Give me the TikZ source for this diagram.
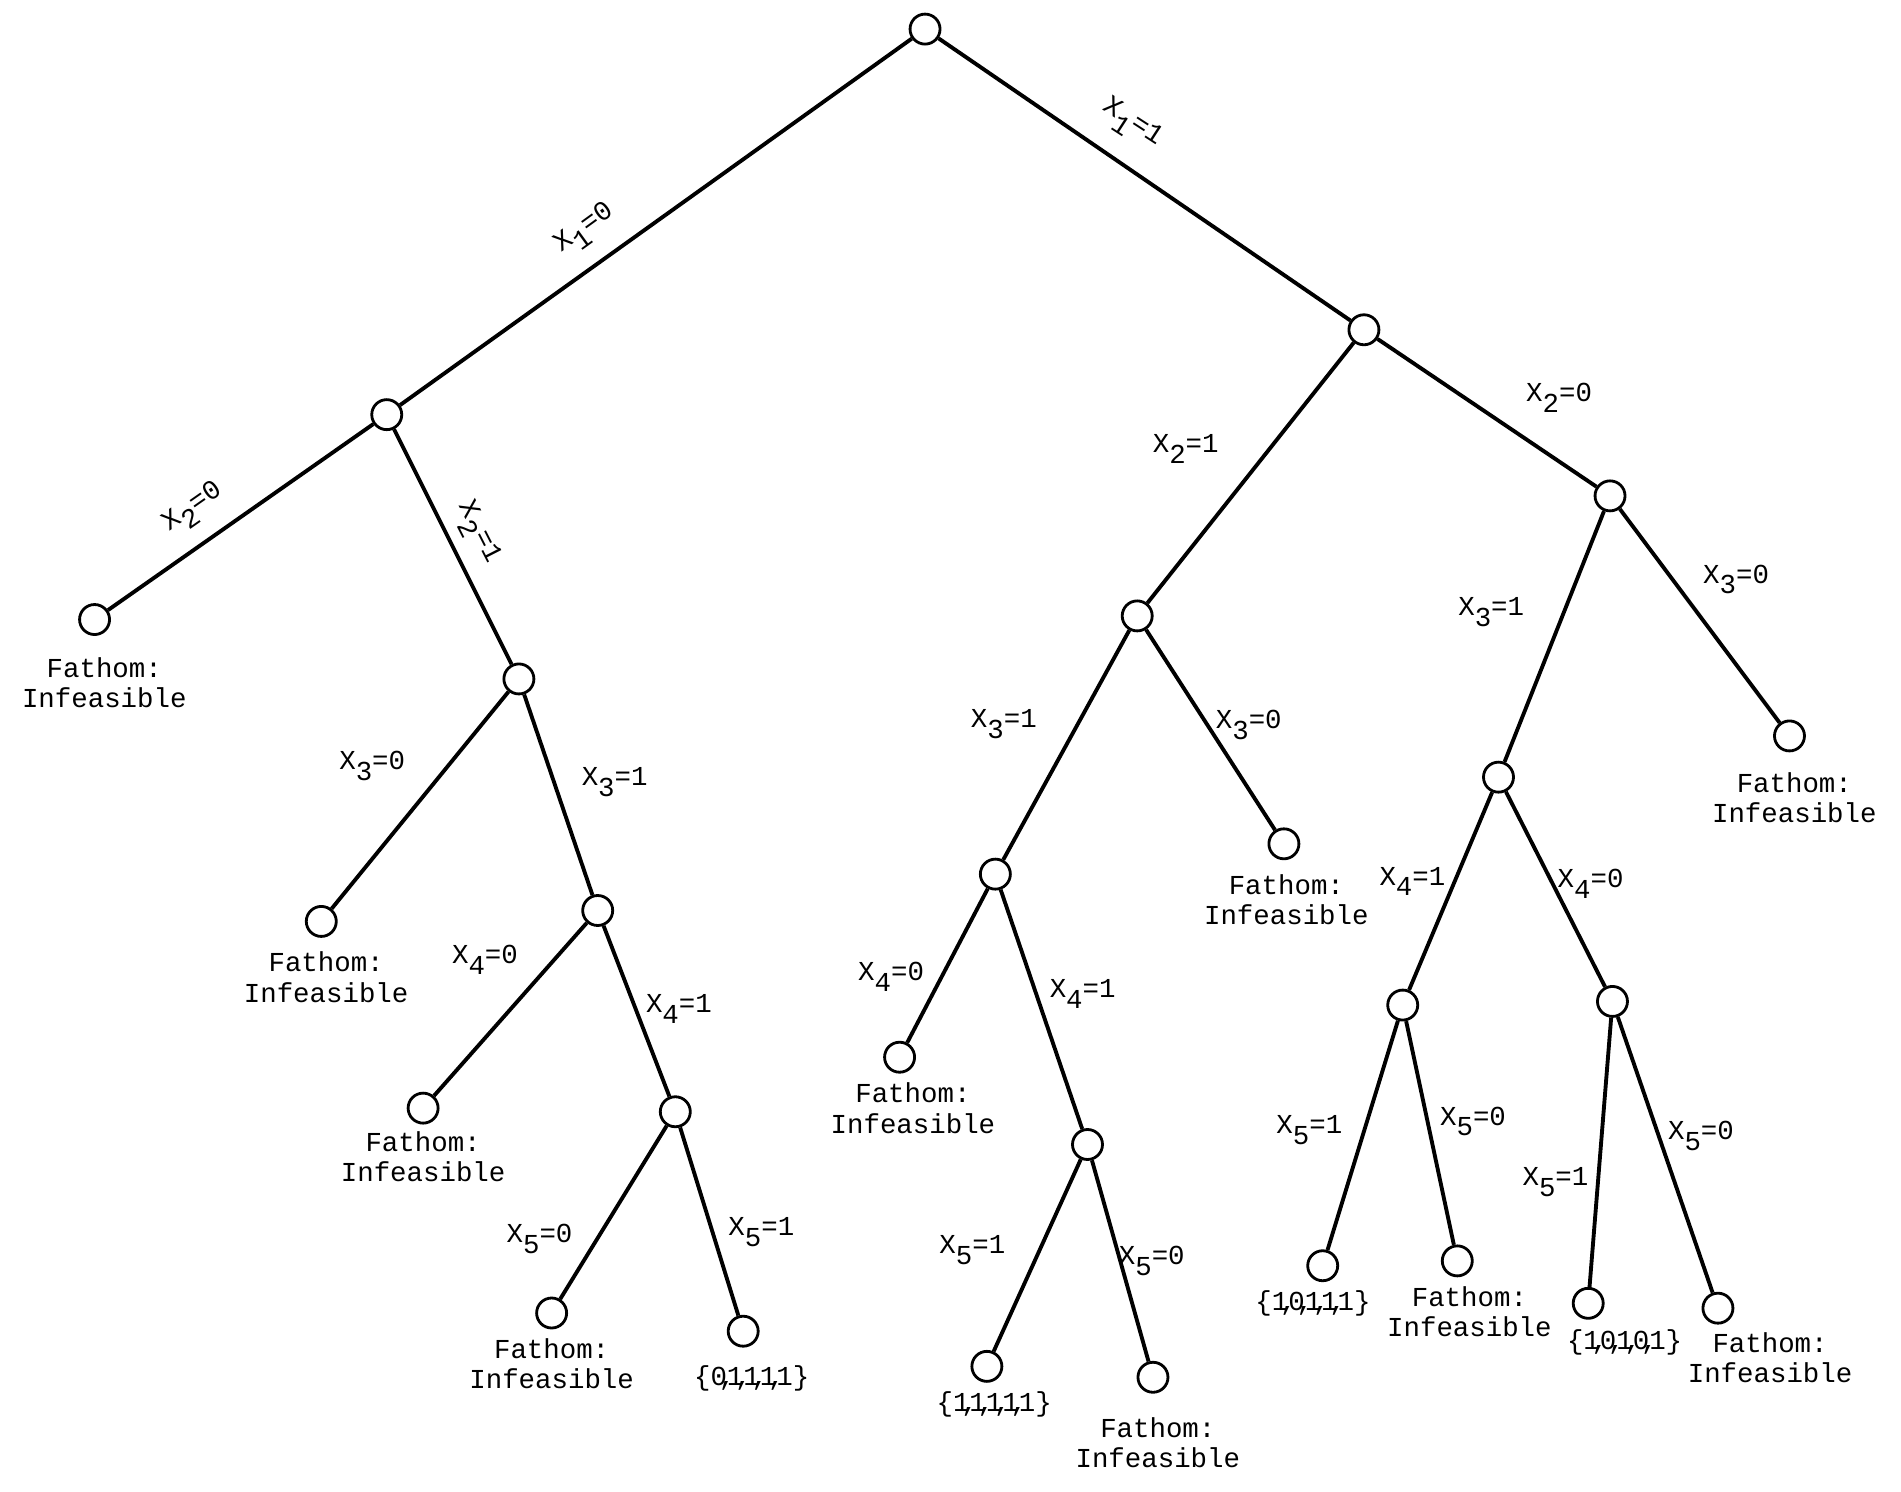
\documentclass[tikz,border=0pt]{standalone}
\usepackage{fontspec}
\setmonofont{Liberation Mono}
\usetikzlibrary{positioning}
\newcommand{\xv}[2]{X\raisebox{-0.75ex}{#1}=#2}
\newcommand{\sep}{\makebox[0pt]{,}}

\begin{document}
\begin{tikzpicture}[
    x=1.2124cm, y=-1.2124cm,
    vertex/.style={circle, draw, line width=0.8pt, minimum size=3mm, inner sep=0},
    edge/.style={line width=1.1pt},
    lbl/.style={font=\ttfamily\fontsize{7.8}{8.6}\selectfont, inner sep=1pt},
    leaf/.style={font=\ttfamily\fontsize{7.8}{8.6}\selectfont, align=center, inner sep=0}
]
  \useasboundingbox (0,0) rectangle (15.68,12.30);

  % Root and first level
  \node[vertex] (root) at (7.63, 0.24) {};
  \node[vertex] (n0) at (3.19, 3.42) {};
  \node[vertex] (n1) at (11.25, 2.72) {};

  % X1 = 0 subtree
  \node[vertex] (n00) at (0.78, 5.11) {};
  \node[vertex] (n01) at (4.28, 5.60) {};
  \node[vertex] (n010) at (2.65, 7.60) {};
  \node[vertex] (n011) at (4.93, 7.51) {};
  \node[vertex] (n0110) at (3.49, 9.14) {};
  \node[vertex] (n0111) at (5.57, 9.17) {};
  \node[vertex] (n01110) at (4.55, 10.83) {};
  \node[vertex] (n01111) at (6.13, 10.98) {};

  % X1 = 1 subtree
  \node[vertex] (n11) at (9.38, 5.08) {};
  \node[vertex] (n10) at (13.28, 4.09) {};
  \node[vertex] (n111) at (8.21, 7.21) {};
  \node[vertex] (n110) at (10.59, 6.96) {};
  \node[vertex] (n1110) at (7.42, 8.72) {};
  \node[vertex] (n1111) at (8.97, 9.44) {};
  \node[vertex] (n11111) at (8.14, 11.27) {};
  \node[vertex] (n11110) at (9.51, 11.36) {};
  \node[vertex] (n101) at (12.36, 6.41) {};
  \node[vertex] (n100) at (14.76, 6.07) {};
  \node[vertex] (n1011) at (11.57, 8.29) {};
  \node[vertex] (n1010) at (13.30, 8.26) {};
  \node[vertex] (n10111) at (10.91, 10.44) {};
  \node[vertex] (n10110) at (12.02, 10.40) {};
  \node[vertex] (n10101) at (13.10, 10.75) {};
  \node[vertex] (n10100) at (14.17, 10.79) {};

  % Branches
  \foreach \a/\b in {root/n0, root/n1, n0/n00, n0/n01, n01/n010, n01/n011,
      n011/n0110, n011/n0111, n0111/n01110, n0111/n01111,
      n1/n11, n1/n10, n11/n111, n11/n110, n111/n1110, n111/n1111,
      n1111/n11111, n1111/n11110, n10/n101, n10/n100, n101/n1011, n101/n1010,
      n1011/n10111, n1011/n10110, n1010/n10101, n1010/n10100}{
    \draw[edge] (\a) -- (\b);
  }

  % Branch labels
  \node[lbl, rotate=36] (b0) at (4.83, 1.90) {\xv{1}{0}};
  \node[lbl, rotate=-33] (b1) at (9.33, 1.03) {\xv{1}{1}};
  \node[lbl, rotate=35] (b00) at (1.60, 4.20) {\xv{2}{0}};
  \node[lbl, rotate=-63] (b01) at (3.93, 4.40) {\xv{2}{1}};
  \node[lbl] (b11) at (9.78, 3.70) {\xv{2}{1}};
  \node[lbl] (b10) at (12.86, 3.28) {\xv{2}{0}};
  \node[lbl] (b010) at (3.07, 6.32) {\xv{3}{0}};
  \node[lbl] (b011) at (5.07, 6.45) {\xv{3}{1}};
  \node[lbl] (b111) at (8.28, 5.97) {\xv{3}{1}};
  \node[lbl] (b110) at (10.30, 5.98) {\xv{3}{0}};
  \node[lbl] (b101) at (12.30, 5.05) {\xv{3}{1}};
  \node[lbl] (b100) at (14.32, 4.78) {\xv{3}{0}};
  \node[lbl] (b0110) at (4.00, 7.92) {\xv{4}{0}};
  \node[lbl] (b0111) at (5.60, 8.32) {\xv{4}{1}};
  \node[lbl] (b1110) at (7.35, 8.06) {\xv{4}{0}};
  \node[lbl] (b1111) at (8.93, 8.20) {\xv{4}{1}};
  \node[lbl] (b1011) at (11.65, 7.27) {\xv{4}{1}};
  \node[lbl] (b1010) at (13.12, 7.29) {\xv{4}{0}};
  \node[lbl] (b01110) at (4.45, 10.22) {\xv{5}{0}};
  \node[lbl] (b01111) at (6.28, 10.16) {\xv{5}{1}};
  \node[lbl] (b11111) at (8.02, 10.31) {\xv{5}{1}};
  \node[lbl] (b11110) at (9.50, 10.40) {\xv{5}{0}};
  \node[lbl] (b10111) at (10.80, 9.32) {\xv{5}{1}};
  \node[lbl] (b10110) at (12.15, 9.25) {\xv{5}{0}};
  \node[lbl] (b10101) at (12.83, 9.75) {\xv{5}{1}};
  \node[lbl] (b10100) at (14.03, 9.37) {\xv{5}{0}};

  % Fathomed nodes
  \node[leaf] (t00) at (0.86, 5.63) {Fathom:\\Infeasible};
  \node[leaf] (t010) at (2.69, 8.06) {Fathom:\\Infeasible};
  \node[leaf] (t0110) at (3.49, 9.54) {Fathom:\\Infeasible};
  \node[leaf] (t01110) at (4.55, 11.25) {Fathom:\\Infeasible};
  \node[leaf] (t01111) at (6.20, 11.37) {\{0\sep1\sep1\sep1\sep1\}};
  \node[leaf] (t1110) at (7.53, 9.14) {Fathom:\\Infeasible};
  \node[leaf] (t110) at (10.61, 7.42) {Fathom:\\Infeasible};
  \node[leaf] (t11111) at (8.20, 11.58) {\{1\sep1\sep1\sep1\sep1\}};
  \node[leaf] (t11110) at (9.55, 11.90) {Fathom:\\Infeasible};
  \node[leaf] (t100) at (14.80, 6.58) {Fathom:\\Infeasible};
  \node[leaf] (t10111) at (10.83, 10.75) {\{1\sep0\sep1\sep1\sep1\}};
  \node[leaf] (t10110) at (12.12, 10.82) {Fathom:\\Infeasible};
  \node[leaf] (t10101) at (13.40, 11.07) {\{1\sep0\sep1\sep0\sep1\}};
  \node[leaf] (t10100) at (14.60, 11.20) {Fathom:\\Infeasible};
\end{tikzpicture}
\end{document}
